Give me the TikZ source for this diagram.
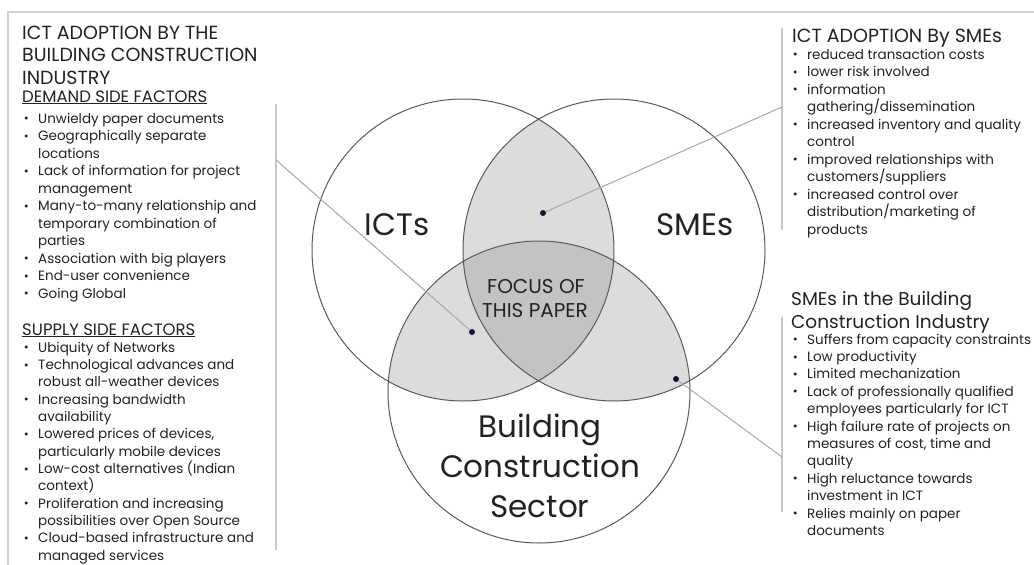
\documentclass[tikz,border=0pt]{standalone}
\usepackage{fontspec}
\setmainfont{Poppins}
\definecolor{txt}{HTML}{222222}
\definecolor{pairfill}{HTML}{DCDCDC}
\definecolor{centerfill}{HTML}{C3C3C3}
\definecolor{ring}{HTML}{5A5A5A}
\definecolor{framec}{HTML}{D2D2D2}
\definecolor{barc}{HTML}{C8C8C8}
\definecolor{leader}{HTML}{A8A8A8}
\definecolor{dotc}{HTML}{0E1830}
\newcommand\bu{\llap{\raisebox{0.3pt}{\fontsize{12}{12}\selectfont\textbullet}\hspace{9.5pt}}}
\tikzset{
  item/.style={anchor=base west, inner sep=0pt, text=txt, font=\fontsize{13.5}{16}\selectfont},
  head/.style={anchor=base west, inner sep=0pt, text=txt, font=\fontsize{19}{22}\selectfont},
  head2/.style={anchor=base west, inner sep=0pt, text=txt, font=\fontsize{18.5}{22}\selectfont},
  subhead/.style={anchor=base west, inner sep=0pt, text=txt, font=\fontsize{16.5}{20}\selectfont},
  biglabel/.style={anchor=base, inner sep=0pt, text=txt, font=\fontsize{31}{36}\selectfont},
  midlabel/.style={anchor=base, inner sep=0pt, text=txt, font=\fontsize{20}{24}\selectfont},
  ringnode/.style={circle, draw=ring, line width=1pt, minimum size=302pt, inner sep=0pt},
  dotnode/.style={circle, fill=dotc, minimum size=6pt, inner sep=0pt},
  leaderline/.style={draw=leader, line width=1pt},
  bar/.style={draw=barc, line width=1.5pt},
}
\begin{document}
\begin{tikzpicture}[x=1pt, y=-1pt]
\useasboundingbox (0,0) rectangle (1034,565);
\fill[white] (0,0) rectangle (1034,565);
% frame
\draw[framec, line width=1.5pt] (8,565) -- (8,12) -- (1034,12);
% fills
\begin{scope}
  \clip (463,250) circle [radius=151pt];
  \fill[pairfill] (614,250) circle [radius=151pt];
  \fill[pairfill] (539,392) circle [radius=151pt];
\end{scope}
\begin{scope}
  \clip (614,250) circle [radius=151pt];
  \fill[pairfill] (539,392) circle [radius=151pt];
\end{scope}
\begin{scope}
  \clip (463,250) circle [radius=151pt];
  \clip (614,250) circle [radius=151pt];
  \fill[centerfill] (539,392) circle [radius=151pt];
\end{scope}
% rings
\node[ringnode] (ict) at (463,250) {};
\node[ringnode] (sme) at (614,250) {};
\node[ringnode] (bld) at (539,392) {};
% labels
\node[biglabel] (ictl) at (397,235) {ICTs};
\node[biglabel] (smel) at (695,235) {SMEs};
\node[midlabel] (f1) at (536,293) {FOCUS OF};
\node[midlabel] (f2) at (535,317) {THIS PAPER};
\node[biglabel] (b1) at (540,437) {Building};
\node[biglabel] (b2) at (540,477) {Construction};
\node[biglabel] (b3) at (540,517) {Sector};
% dots
\node[dotnode] (d1) at (543,213) {};
\node[dotnode] (d2) at (472,332) {};
\node[dotnode] (d3) at (676,379) {};
% bars
\coordinate (lb1) at (276,104); \coordinate (lb2) at (276,550); \coordinate (lbj) at (276,160);
\coordinate (rb1) at (782,28);  \coordinate (rb2) at (782,230); \coordinate (rbj) at (782,107);
\coordinate (sb1) at (782,317); \coordinate (sb2) at (782,512); \coordinate (sbj) at (782,457);
\draw[bar] (lb1) -- (lb2);
\draw[bar] (rb1) -- (rb2);
\draw[bar] (sb1) -- (sb2);
\draw[leaderline] (d1) -- (rbj);
\draw[leaderline] (d2) -- (lbj);
\draw[leaderline] (d3) -- (sbj);
% left block
\node[head] (lt1) at (22,39) {ICT ADOPTION BY THE};
\node[head] (lt2) at (22,61.5) {BUILDING CONSTRUCTION};
\node[head] (lt3) at (22,84) {INDUSTRY};
\node[subhead] (dem) at (22,102) {\underline{DEMAND SIDE FACTORS}};
\foreach \t [count=\i from 0] in {
  \bu Unwieldy paper documents,
  \bu Geographically separate,
  locations,
  \bu Lack of information for project,
  management,
  \bu Many-to-many relationship and,
  temporary combination of,
  parties,
  \bu Association with big players,
  \bu End-user convenience,
  \bu Going Global}
  \node[item] (dA\i) at (38,123+\i*17.5) {\t};
\node[subhead] (sup) at (22,335) {\underline{SUPPLY SIDE FACTORS}};
\foreach \t [count=\i from 0] in {
  \bu Ubiquity of Networks,
  \bu Technological advances and,
  robust all-weather devices,
  \bu Increasing bandwidth,
  availability,
  {\bu Lowered prices of devices,},
  particularly mobile devices,
  \bu Low-cost alternatives (Indian,
  context),
  \bu Proliferation and increasing,
  possibilities over Open Source,
  \bu Cloud-based infrastructure and,
  managed services}
  \node[item] (sA\i) at (38,352+\i*17.35) {\t};
% right upper block
\node[head] (rt1) at (792,42) {ICT ADOPTION By SMEs};
\foreach \t [count=\i from 0] in {
  \bu reduced transaction costs,
  \bu lower risk involved,
  \bu information,
  gathering/dissemination,
  \bu increased inventory and quality,
  control,
  \bu improved relationships with,
  customers/suppliers,
  \bu increased control over,
  distribution/marketing of,
  products}
  \node[item] (rA\i) at (807,59+\i*17.5) {\t};
% right lower block
\node[head2] (st1) at (791,305) {SMEs in the Building};
\node[head2] (st2) at (791,328) {Construction Industry};
\foreach \t [count=\i from 0] in {
  \bu Suffers from capacity constraints,
  \bu Low productivity,
  \bu Limited mechanization,
  \bu Lack of professionally qualified,
  employees particularly for ICT,
  \bu High failure rate of projects on,
  {measures of cost, time and},
  quality,
  \bu High reluctance towards,
  investment in ICT,
  \bu Relies mainly on paper,
  documents}
  \node[item] (qA\i) at (807,344+\i*17.4) {\t};
\end{tikzpicture}
\end{document}
